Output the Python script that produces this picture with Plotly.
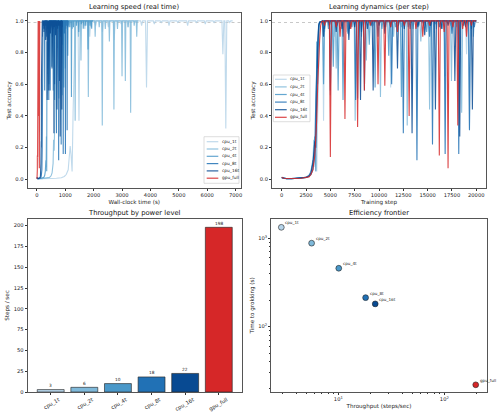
import plotly.graph_objects as go
import math

# ---------------- data ----------------
RUN_NAMES = ["cpu_1t", "cpu_2t", "cpu_4t", "cpu_8t", "cpu_16t", "gpu_full"]
RUN_COLORS = ["#b6d4e9", "#7fb9da", "#4a98c9", "#2171b5", "#084a92", "#d62728"]
THROUGHPUT = [2.9, 5.6, 10.1, 18.1, 22.3, 198.0]          # steps / sec
TIME_TO_GROK = [1330, 880, 458, 213, 181, 22]              # seconds
GROK_THRESHOLD = 0.99
FINAL_STEP = 20000
EVAL_EVERY = 100
PLATEAU_ACC = 1.0

# (step, test accuracy) before / during the grokking jump
RISE_CPU_1T = [(0, 0.012), (200, 0.006), (500, 0.004), (1000, 0.003), (1500, 0.005), (2000, 0.007),
               (2500, 0.010), (2800, 0.018), (3000, 0.03), (3200, 0.06), (3300, 0.12), (3400, 0.21),
               (3500, 0.15), (3600, 0.05), (3700, 0.42), (3800, 0.82), (3900, 0.97), (4000, 0.995)]
RISE_CPU_2T = [(0, 0.010), (200, 0.007), (500, 0.004), (1000, 0.004), (1500, 0.006), (2000, 0.008),
               (2500, 0.012), (2800, 0.022), (3000, 0.04), (3200, 0.10), (3300, 0.25), (3400, 0.18),
               (3500, 0.32), (3600, 0.69), (3700, 0.60), (3800, 0.90), (3900, 0.99)]
RISE_CPU_4T = [(0, 0.011), (200, 0.006), (500, 0.005), (1000, 0.004), (1500, 0.006), (2000, 0.009),
               (2500, 0.013), (2800, 0.025), (3000, 0.05), (3200, 0.12), (3300, 0.08), (3400, 0.27),
               (3500, 0.05), (3600, 0.87), (3700, 0.70), (3800, 0.95), (3900, 0.99)]
RISE_CPU_8T = [(0, 0.012), (200, 0.007), (500, 0.004), (1000, 0.003), (1500, 0.005), (2000, 0.008),
               (2500, 0.011), (2800, 0.02), (3000, 0.03), (3200, 0.06), (3400, 0.19), (3500, 0.50),
               (3600, 0.78), (3700, 0.88), (3800, 0.98), (3900, 0.995)]
RISE_CPU_16T = [(0, 0.010), (200, 0.006), (500, 0.004), (1000, 0.004), (1500, 0.006), (2000, 0.008),
                (2500, 0.012), (2800, 0.02), (3000, 0.04), (3200, 0.10), (3400, 0.24), (3500, 0.20),
                (3600, 0.62), (3700, 0.82), (3800, 0.97), (3900, 0.99)]
RISE_GPU = [(0, 0.013), (200, 0.007), (500, 0.005), (1000, 0.004), (1500, 0.005), (2000, 0.007),
            (2500, 0.010), (2800, 0.015), (3000, 0.03), (3200, 0.06), (3400, 0.15), (3600, 0.38),
            (3700, 0.60), (3800, 0.80), (3900, 0.88), (4000, 0.97), (4100, 0.995)]

# (step, test accuracy) of the post-grokking accuracy dips
DIPS_CPU_1T = [(4300, 0.37), (4900, 0.95), (5400, 0.90), (6000, 0.97), (6700, 0.93), (7300, 0.96),
               (7900, 0.88), (8600, 0.98), (9300, 0.96), (10000, 0.99), (10700, 0.97), (11200, 0.58),
               (12000, 0.98), (12700, 0.99), (13500, 0.97), (14400, 0.99), (15400, 0.97), (16300, 0.99),
               (17200, 0.98), (18100, 0.99), (19000, 0.79), (19300, 0.32), (19700, 0.99)]
DIPS_CPU_2T = [(4400, 0.93), (5000, 0.53), (5600, 0.70), (6200, 0.97), (7000, 0.95), (7550, 0.37),
               (8200, 0.90), (8700, 0.75), (9400, 0.97), (10150, 0.52), (10700, 0.96), (11500, 0.90),
               (12300, 0.96), (12900, 0.34), (13500, 0.95), (14300, 0.87), (15200, 0.44), (15900, 0.95),
               (16800, 0.65), (17450, 0.62), (18000, 0.96), (18500, 0.42), (19200, 0.97), (19700, 0.90)]
DIPS_CPU_4T = [(4300, 0.60), (4800, 0.95), (5300, 0.71), (5800, 0.56), (6300, 0.50), (6800, 0.92),
               (7200, 0.96), (7800, 0.51), (8400, 0.97), (9000, 0.85), (9600, 0.58), (10300, 0.95),
               (11000, 0.78), (11700, 0.96), (12300, 0.52), (13000, 0.96), (14100, 0.97), (14900, 0.93),
               (15800, 0.98), (16500, 0.95), (17400, 0.97), (18200, 0.82), (18900, 0.97), (19500, 0.95)]
DIPS_CPU_8T = [(4400, 0.95), (5000, 0.56), (5700, 0.97), (6300, 0.90), (7000, 0.95), (7600, 0.50),
               (8200, 0.93), (8500, 0.56), (9200, 0.97), (9900, 0.90), (10600, 0.96), (11300, 0.60),
               (12000, 0.97), (12500, 0.29), (13200, 0.95), (13900, 0.12), (14600, 0.97), (15200, 0.90),
               (15500, 0.22), (16200, 0.96), (16800, 0.16), (17500, 0.92), (18200, 0.16), (18700, 0.97),
               (19300, 0.31), (19800, 0.96)]
DIPS_CPU_16T = [(4300, 0.90), (4900, 0.97), (5600, 0.93), (6200, 0.95), (6900, 0.88), (7500, 0.96),
                (8100, 0.50), (8800, 0.95), (9400, 0.56), (10000, 0.97), (10600, 0.92), (11200, 0.96),
                (11900, 0.70), (12600, 0.95), (13400, 0.29), (14000, 0.96), (14700, 0.91), (15300, 0.97),
                (15800, 0.44), (16400, 0.95), (17100, 0.97), (17800, 0.62), (18300, 0.27), (18900, 0.96),
                (19600, 0.44)]
DIPS_GPU = [(4400, 0.97), (5000, 0.14), (5600, 0.96), (6000, 0.90), (6500, 0.38), (7100, 0.95),
            (7800, 0.33), (8500, 0.56), (9100, 0.97), (9900, 0.60), (10600, 0.59), (11200, 0.96),
            (11900, 0.93), (12600, 0.97), (13100, 0.40), (13800, 0.95), (14500, 0.90), (15200, 0.97),
            (16200, 0.15), (16700, 0.93), (17100, 0.07), (17600, 0.96), (18100, 0.34), (18600, 0.95),
            (19000, 0.90), (19500, 0.97)]

RISES = [RISE_CPU_1T, RISE_CPU_2T, RISE_CPU_4T, RISE_CPU_8T, RISE_CPU_16T, RISE_GPU]
DIPS = [DIPS_CPU_1T, DIPS_CPU_2T, DIPS_CPU_4T, DIPS_CPU_8T, DIPS_CPU_16T, DIPS_GPU]


def build_curve(rise, dips):
    steps = [s for s, _ in rise]
    acc = [a for _, a in rise]
    for s, a in dips:
        steps += [s - EVAL_EVERY, s, s + EVAL_EVERY]
        acc += [PLATEAU_ACC, a, PLATEAU_ACC]
    steps.append(FINAL_STEP)
    acc.append(PLATEAU_ACC)
    return steps, acc


# ---------------- layout helpers ----------------
W, H = 500, 417
FONT = "DejaVu Sans"
TICK_FONT = dict(family=FONT, size=5.2, color="#222")
LABEL_FONT = dict(family=FONT, size=5.6, color="#222")
TITLE_FONT = dict(family=FONT, size=6.8, color="#111")
SMALL_FONT = dict(family=FONT, size=4.3, color="#222")


def px(x):
    return x / W


def py(y):
    return 1 - y / H


DOM = {
    "tl": ([px(27.5), px(241)], [py(188), py(13)]),
    "tr": ([px(272), px(486)], [py(188), py(13)]),
    "bl": ([px(27.5), px(242)], [py(392), py(219)]),
    "br": ([px(271), px(487)], [py(392), py(219)]),
}

fig = go.Figure()

# ---------------- top panels: accuracy curves ----------------
for name, color, thr, rise, dips in zip(RUN_NAMES, RUN_COLORS, THROUGHPUT, RISES, DIPS):
    steps, acc = build_curve(rise, dips)
    wall = [s / thr for s in steps]
    fig.add_trace(go.Scatter(x=wall, y=acc, mode="lines", name=name, showlegend=False,
                             line=dict(color=color, width=1.1), opacity=0.85,
                             xaxis="x", yaxis="y", hoverinfo="skip"))
    fig.add_trace(go.Scatter(x=steps, y=acc, mode="lines", name=name, showlegend=False,
                             line=dict(color=color, width=1.1), opacity=0.85,
                             xaxis="x2", yaxis="y2", hoverinfo="skip"))

# ---------------- bottom-left: bars ----------------
fig.add_trace(go.Bar(x=RUN_NAMES, y=THROUGHPUT, width=0.8,
                     marker=dict(color=RUN_COLORS, line=dict(color="rgba(40,40,40,0.8)", width=0.8)),
                     showlegend=False, xaxis="x3", yaxis="y3", hoverinfo="skip"))

# ---------------- bottom-right: frontier ----------------
fig.add_trace(go.Scatter(x=THROUGHPUT, y=TIME_TO_GROK, mode="markers", showlegend=False,
                         marker=dict(color=RUN_COLORS, size=5.8, line=dict(color="#222", width=0.6)),
                         xaxis="x4", yaxis="y4", hoverinfo="skip"))

annotations = []
for name, thr in zip(RUN_NAMES, THROUGHPUT):
    annotations.append(dict(x=name, y=thr, xref="x3", yref="y3", text=f"{thr:.0f}",
                            showarrow=False, xanchor="center", yanchor="bottom", yshift=-0.5,
                            font=SMALL_FONT))
for name, thr, t in zip(RUN_NAMES, THROUGHPUT, TIME_TO_GROK):
    annotations.append(dict(x=math.log10(thr), y=math.log10(t), xref="x4", yref="y4", text=name,
                            showarrow=False, xanchor="left", yanchor="bottom", xshift=2, yshift=0,
                            font=dict(family=FONT, size=4.1, color="#222")))

# subplot titles
for key, title, ypix in [("tl", "Learning speed (real time)", 6.8), ("tr", "Learning dynamics (per step)", 6.8),
                         ("bl", "Throughput by power level", 213), ("br", "Efficiency frontier", 213)]:
    d = DOM[key][0]
    annotations.append(dict(x=(d[0] + d[1]) / 2, y=py(ypix), xref="paper", yref="paper", text=title,
                            showarrow=False, xanchor="center", yanchor="middle", font=TITLE_FONT))

shapes = []
# threshold lines
for ax in ["", "2"]:
    shapes.append(dict(type="line", xref=f"x{ax} domain", yref=f"y{ax}", x0=0, x1=1,
                       y0=GROK_THRESHOLD, y1=GROK_THRESHOLD, layer="below",
                       line=dict(color="rgba(128,128,128,0.55)", width=0.8, dash="dot")))


def add_legend(box, row0, gap, lx0, lx1, tx):
    shapes.append(dict(type="rect", xref="paper", yref="paper", x0=px(box[0]), x1=px(box[1]),
                       y0=py(box[3]), y1=py(box[2]), fillcolor="rgba(255,255,255,0.8)",
                       line=dict(color="#cfcfcf", width=0.7), layer="above"))
    for i, (name, color) in enumerate(zip(RUN_NAMES, RUN_COLORS)):
        yy = row0 + i * gap
        shapes.append(dict(type="line", xref="paper", yref="paper", x0=px(lx0), x1=px(lx1),
                           y0=py(yy), y1=py(yy), line=dict(color=color, width=1.2),
                           opacity=0.85, layer="above"))
        annotations.append(dict(x=px(tx), y=py(yy), xref="paper", yref="paper", text=name,
                                showarrow=False, xanchor="left", yanchor="middle",
                                font=SMALL_FONT))


add_legend((204, 239, 136.7, 183.3), 141.7, 7.3, 206.7, 218.3, 220)
add_legend((273.3, 310, 75, 121.7), 79.3, 7.6, 275, 286.7, 288.3)

AX = dict(showline=True, mirror=True, linecolor="#555", linewidth=0.8, ticks="outside", ticklen=2,
          tickwidth=0.7, tickcolor="#333", tickfont=TICK_FONT, showgrid=False, zeroline=False,
          automargin=False)

fig.update_layout(
    width=W, height=H, margin=dict(l=0, r=0, t=0, b=0), autosize=False,
    paper_bgcolor="white", plot_bgcolor="white", showlegend=False,
    font=dict(family=FONT),
    xaxis=dict(AX, domain=DOM["tl"][0], anchor="y", range=[-330, 7190], dtick=1000, tickformat="d",
               title=dict(text="Wall-clock time (s)", font=LABEL_FONT, standoff=2)),
    yaxis=dict(AX, domain=DOM["tl"][1], anchor="x", range=[-0.055, 1.05], dtick=0.2, tickformat=".1f",
               title=dict(text="Test accuracy", font=LABEL_FONT, standoff=3)),
    xaxis2=dict(AX, domain=DOM["tr"][0], anchor="y2", range=[-1000, 21000], dtick=2500, tickformat="d",
                title=dict(text="Training step", font=LABEL_FONT, standoff=2)),
    yaxis2=dict(AX, domain=DOM["tr"][1], anchor="x2", range=[-0.055, 1.05], dtick=0.2, tickformat=".1f",
                title=dict(text="Test accuracy", font=LABEL_FONT, standoff=3)),
    xaxis3=dict(AX, domain=DOM["bl"][0], anchor="y3", range=[-0.69, 5.69], type="category",
                tickangle=-30, ticklabelshift=8),
    yaxis3=dict(AX, domain=DOM["bl"][1], anchor="x3", range=[0, 208], dtick=25,
                title=dict(text="Steps / sec", font=LABEL_FONT, standoff=3)),
    xaxis4=dict(AX, domain=DOM["br"][0], anchor="y4", type="log", range=[0.365, 2.403],
                tickvals=[10, 100], ticktext=["10<sup>1</sup>", "10<sup>2</sup>"],
                minor=dict(ticks="outside", ticklen=1.2, tickcolor="#333",
                           tickvals=[3, 4, 5, 6, 7, 8, 9, 20, 30, 40, 50, 60, 70, 80, 90, 200]),
                title=dict(text="Throughput (steps/sec)", font=LABEL_FONT, standoff=2)),
    yaxis4=dict(AX, domain=DOM["br"][1], anchor="x4", type="log", range=[1.261, 3.218],
                tickvals=[100, 1000], ticktext=["10<sup>2</sup>", "10<sup>3</sup>"],
                minor=dict(ticks="outside", ticklen=1.2, tickcolor="#333",
                           tickvals=[20, 30, 40, 50, 60, 70, 80, 90, 200, 300, 400, 500, 600, 700, 800, 900]),
                title=dict(text="Time to grokking (s)", font=LABEL_FONT, standoff=3)),
    annotations=annotations, shapes=shapes,
)

fig.write_html("out.html")
